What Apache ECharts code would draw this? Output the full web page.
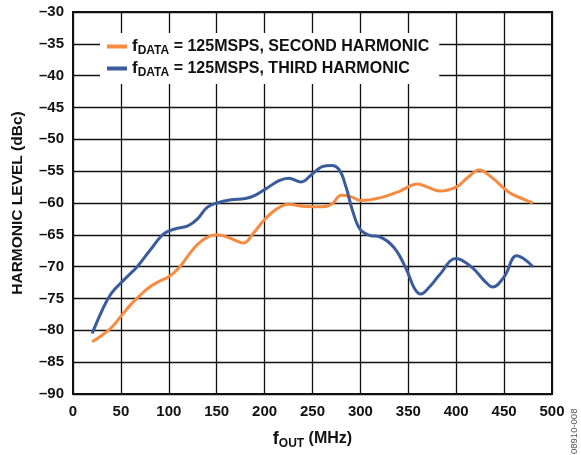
<!DOCTYPE html>
<html>
<head>
<meta charset="utf-8">
<script src="https://cdn.jsdelivr.net/npm/echarts@6/dist/echarts.min.js"></script>
<style>
  html, body { margin: 0; padding: 0; background: #fff; }
  #chart { width: 581px; height: 455px; }
</style>
</head>
<body>
<div id="chart"></div>
<script>
// Output frequency (MHz) and harmonic level (dBc) for each curve
const secondHarmonicFreq = [20, 30, 40, 50, 60, 70, 80, 90, 100, 110, 120, 130, 140, 150, 160, 170, 178, 188, 200, 212, 225, 240, 260, 270, 280, 290, 300, 320, 340, 360, 370, 383, 400, 412, 424, 438, 455, 470, 480];
const secondHarmonicLevel = [-81.8, -80.8, -79.6, -77.8, -76.0, -74.5, -73.2, -72.3, -71.6, -70.3, -68.3, -66.5, -65.4, -65.0, -65.3, -65.9, -66.3, -64.8, -62.6, -61.0, -60.2, -60.5, -60.6, -60.2, -58.8, -59.0, -59.6, -59.2, -58.2, -57.0, -57.5, -58.1, -57.5, -56.0, -54.8, -56.1, -58.3, -59.4, -60.0];

const thirdHarmonicFreq = [20, 30, 40, 55, 67, 80, 95, 108, 120, 130, 140, 150, 165, 180, 190, 202, 215, 225, 238, 250, 260, 270, 278, 285, 292, 300, 310, 320, 335, 348, 356, 363, 372, 382, 400, 417, 430, 438, 450, 463, 472, 480];
const thirdHarmonicLevel = [-80.5, -77.0, -74.2, -71.8, -70.0, -67.5, -64.8, -64.0, -63.6, -62.5, -60.7, -60.0, -59.5, -59.3, -58.8, -57.7, -56.5, -56.1, -56.7, -55.4, -54.3, -54.1, -54.8, -57.5, -61.3, -64.2, -65.1, -65.3, -67.0, -70.4, -73.3, -74.3, -73.2, -71.4, -68.7, -70.2, -72.3, -73.2, -71.6, -68.3, -68.9, -70.0];

const seriesNames = ['SECOND HARMONIC', 'THIRD HARMONIC'];
const seriesColors = ['#F68B41', '#3B5C9C'];

const pair = (xs, ys) => xs.map((x, i) => [x, ys[i]]);
const fmtNeg = v => (v < 0 ? '\u2013' + Math.abs(v) : String(v));

const FONT = '"Liberation Sans", Arial, Helvetica, sans-serif';
const INK = '#111';

const chart = echarts.init(document.getElementById('chart'), null, { renderer: 'canvas' });

chart.setOption({
  animation: false,
  backgroundColor: '#fff',
  textStyle: { fontFamily: FONT },
  grid: {
    left: 73, right: 29, top: 12, bottom: 61,
    show: true, borderColor: INK, borderWidth: 2, backgroundColor: 'transparent'
  },
  legend: {
    left: 100, top: 33,
    orient: 'vertical',
    backgroundColor: '#fff',
    padding: [3, 10, 5, 7],
    itemGap: 1,
    itemWidth: 20, itemHeight: 4,
    icon: 'rect',
    data: seriesNames,
    formatter: name => '{f|f}{sub|DATA}{t| = 125MSPS, ' + name + '}',
    textStyle: {
      rich: {
        f: { fontFamily: FONT, fontWeight: 'bold', fontSize: 17, color: INK, lineHeight: 18 },
        sub: { fontFamily: FONT, fontWeight: 'bold', fontSize: 12, color: INK, padding: [9, 0, 0, 0], lineHeight: 18 },
        t: { fontFamily: FONT, fontWeight: 'bold', fontSize: 16, color: INK, lineHeight: 18 }
      }
    }
  },
  xAxis: {
    type: 'value', min: 0, max: 500, interval: 50,
    axisLine: { show: false },
    axisTick: { show: false },
    splitLine: { show: true, lineStyle: { color: INK, width: 1.3 } },
    axisLabel: { color: INK, fontWeight: 'bold', fontSize: 15, margin: 10, fontFamily: FONT },
    name: '{f|f}{sub|OUT}{t| (MHz)}',
    nameLocation: 'middle',
    nameGap: 34,
    nameTextStyle: {
      rich: {
        f: { fontFamily: FONT, fontWeight: 'bold', fontSize: 18, color: INK },
        sub: { fontFamily: FONT, fontWeight: 'bold', fontSize: 12, color: INK, padding: [10, 0, 0, 0] },
        t: { fontFamily: FONT, fontWeight: 'bold', fontSize: 16, color: INK }
      }
    }
  },
  yAxis: {
    type: 'value', min: -90, max: -30, interval: 5,
    axisLine: { show: false },
    axisTick: { show: false },
    splitLine: { show: true, lineStyle: { color: INK, width: 1.3 } },
    axisLabel: { color: INK, fontWeight: 'bold', fontSize: 15, margin: 9, fontFamily: FONT, formatter: fmtNeg },
    name: 'HARMONIC LEVEL (dBc)',
    nameLocation: 'middle',
    nameGap: 47,
    nameTextStyle: { color: INK, fontWeight: 'bold', fontSize: 15.5, fontFamily: FONT }
  },
  series: [
    {
      name: seriesNames[0], type: 'line', smooth: 0.4, symbol: 'none',
      color: seriesColors[0],
      lineStyle: { width: 3, color: seriesColors[0] },
      data: pair(secondHarmonicFreq, secondHarmonicLevel), z: 3
    },
    {
      name: seriesNames[1], type: 'line', smooth: 0.4, symbol: 'none',
      color: seriesColors[1],
      lineStyle: { width: 3, color: seriesColors[1] },
      data: pair(thirdHarmonicFreq, thirdHarmonicLevel), z: 4
    }
  ],
  graphic: [
    {
      type: 'text', x: 574, y: 454, rotation: Math.PI / 2,
      style: { text: '08910-008', fill: '#555', font: '9.5px ' + FONT, textAlign: 'left', textVerticalAlign: 'middle' }
    }
  ]
});
</script>
</body>
</html>
